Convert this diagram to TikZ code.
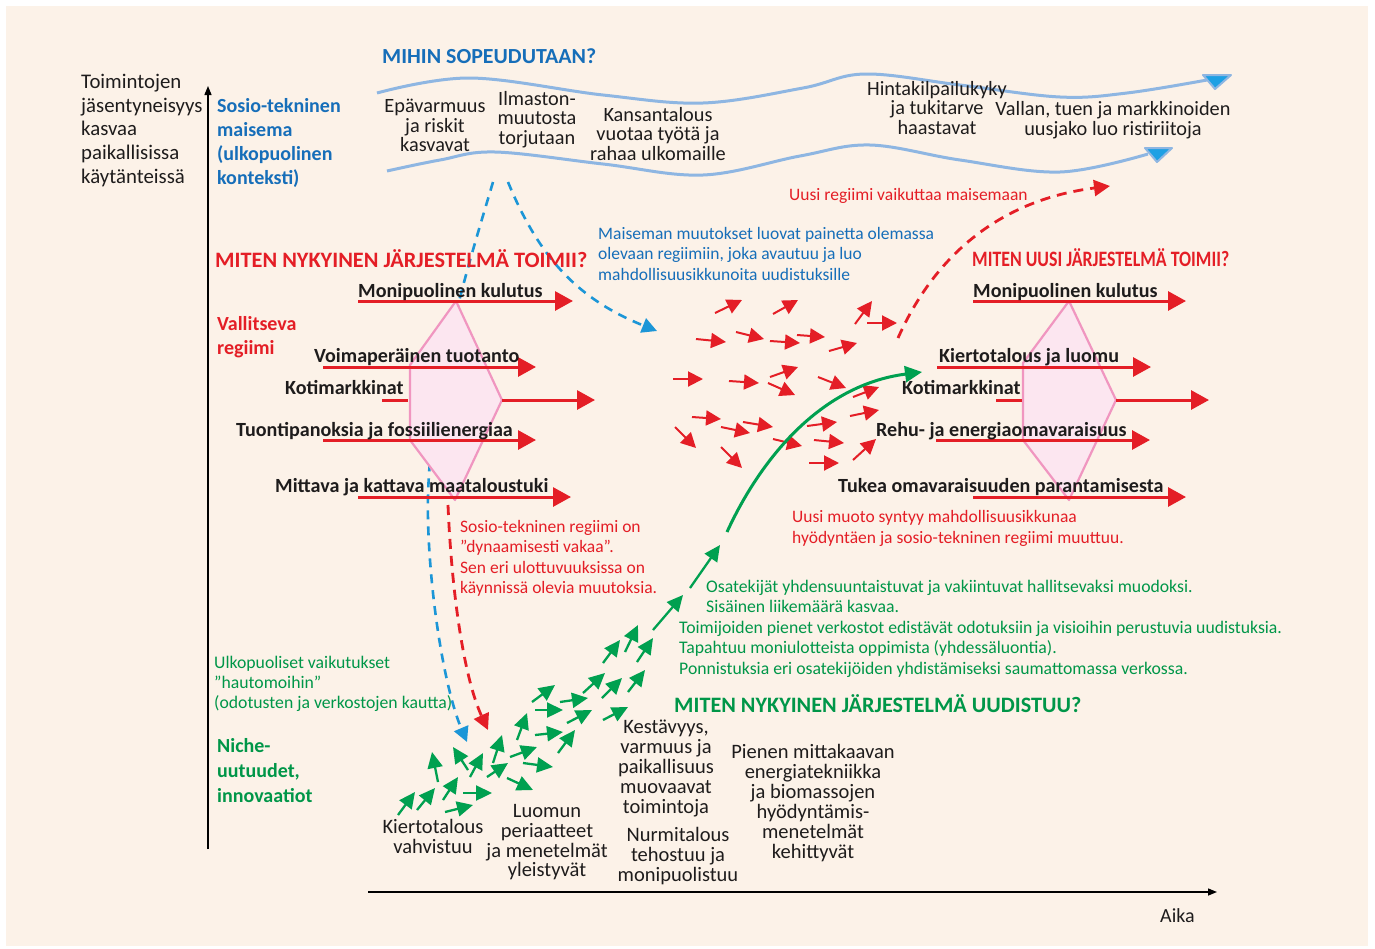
\documentclass[tikz,border=0pt]{standalone}
\usepackage{fontspec}
\usepackage{graphicx}
\setmainfont{Carlito}
\usetikzlibrary{arrows.meta}
\definecolor{bgc}{RGB}{252,242,232}
\definecolor{ink}{RGB}{30,28,28}
\definecolor{rred}{RGB}{228,30,38}
\definecolor{tblue}{RGB}{22,110,185}
\definecolor{dblue}{RGB}{28,150,215}
\definecolor{wblue}{RGB}{142,182,226}
\definecolor{hblue}{RGB}{30,160,228}
\definecolor{ggreen}{RGB}{0,160,80}
\definecolor{tgreen}{RGB}{0,150,72}
\definecolor{pinkl}{RGB}{240,150,192}
\definecolor{pinkf}{RGB}{252,230,240}
\newcommand\fs[1]{\fontsize{#1}{#1}\selectfont}
\begin{document}
\begin{tikzpicture}[x=1pt,y=-1pt,
  lw/.style={inner sep=0pt,anchor=base west},
  lc/.style={inner sep=0pt,anchor=base},
  body/.style={font=\fs{20}\color{ink}},
  land/.style={font=\fs{20.3}\color{ink}},
  btm/.style={font=\fs{20.5}\color{ink}},
  reglbl/.style={font=\fs{20.1}\bfseries\color{ink}},
  redpara/.style={font=\fs{17.5}\color{rred}},
  bluepara/.style={font=\fs{17.5}\color{tblue}},
  greenpara/.style={font=\fs{17.7}\color{tgreen}},
  regarrow/.style={draw=rred,line width=3pt,-{Triangle[length=18pt,width=19pt]}},
  regline/.style={draw=rred,line width=3pt},
  hexa/.style={draw=pinkl,fill=pinkf,line width=2.2pt,line join=round},
  swr/.style={draw=rred,fill=rred,line width=2pt,-{Triangle[length=15pt,width=15pt]}},
  swg/.style={draw=ggreen,fill=ggreen,line width=2.3pt,-{Triangle[length=16pt,width=15pt]}},
  bdash/.style={draw=dblue,line width=2.6pt,dash pattern=on 9pt off 7pt,-{Triangle[length=15pt,width=15pt]}},
  rdash/.style={draw=rred,line width=2.8pt,dash pattern=on 10pt off 7pt,-{Triangle[length=16pt,width=16pt]}},
  wave/.style={draw=wblue,line width=3pt},
  whead/.style={fill=hblue,draw=wblue,line width=2pt,line join=round},
  axis/.style={draw=black,line width=1.4pt,-{Triangle[length=9pt,width=7pt]}}
]
\useasboundingbox (0,0) rectangle (1375,948);
\fill[white] (0,0) rectangle (1375,948);
\fill[bgc] (6,6) rectangle (1368,946);

% axes
\coordinate (yb) at (208,849); \coordinate (yt) at (208,86);
\coordinate (xb) at (368,892); \coordinate (xt) at (1217,892);
\draw[axis] (yb) -- (yt);
\draw[axis] (xb) -- (xt);
\node[lw,body] (aika) at (1160,922) {Aika};

% left axis label
\foreach \t [count=\i] in {Toimintojen,jäsentyneisyys,kasvaa,paikallisissa,käytänteissä}
  \node[lw,font=\fs{20.8}\color{ink}] (yl\i) at (81,65+23.6*\i) {\t};
\foreach \t [count=\i] in {Sosio-tekninen,maisema,{(ulkopuolinen},{konteksti)}}
  \node[lw,font=\fs{20}\bfseries\color{tblue}] (sm\i) at (217,89+23.9*\i) {\t};

% waves
\draw[wave] plot[smooth,tension=0.6] coordinates {(377,93) (470,78) (603,95) (703,103) (803,88) (865,74) (960,85) (1060,97) (1127,93) (1207,80)};
\draw[wave] plot[smooth,tension=0.6] coordinates {(387,171) (440,160) (495,152) (603,164) (703,175) (800,156) (870,145) (960,160) (1060,172) (1148,154)};
\draw[whead] (1203,75) -- (1231,75) -- (1215,89) -- cycle;
\draw[whead] (1145,148) -- (1172,148) -- (1157,162) -- cycle;

\node[lw,font=\fs{21.5}\bfseries\color{tblue}] (mihin) at (382,63) {\resizebox{214pt}{\height}{MIHIN SOPEUDUTAAN?}};

\foreach \t [count=\i] in {Epävarmuus,ja riskit,kasvavat}
  \node[lc,land] (la\i) at (435,93+19.5*\i) {\t};
\foreach \t [count=\i] in {Ilmaston-,muutosta,torjutaan}
  \node[lc,land] (lb\i) at (537,85.5+19.5*\i) {\t};
\foreach \t [count=\i] in {Kansantalous,vuotaa työtä ja,rahaa ulkomaille}
  \node[lc,land] (lc\i) at (658,101.5+19.5*\i) {\t};
\foreach \t [count=\i] in {Hintakilpailukyky,ja tukitarve,haastavat}
  \node[lc,land] (ld\i) at (937,75.5+19.5*\i) {\t};
\foreach \t [count=\i] in {{Vallan, tuen ja markkinoiden},uusjako luo ristiriitoja}
  \node[lc,land] (le\i) at (1113,95+20*\i) {\t};

% blue dashed connectors (behind hexagon)
\coordinate (b1s) at (493,182); \coordinate (b1m) at (428,520); \coordinate (b1e) at (467,742);
\draw[bdash] (b1s) .. controls (470,260) and (425,400) .. (b1m) .. controls (430,600) and (445,690) .. (b1e);
\coordinate (b2s) at (508,182); \coordinate (b2e) at (657,331);
\draw[bdash] (b2s) .. controls (540,260) and (580,300) .. (b2e);

% headings
\node[lw,font=\fs{22}\bfseries\color{rred}] (h1) at (215,267) {\resizebox{372pt}{\height}{MITEN NYKYINEN JÄRJESTELMÄ TOIMII?}};
\node[lw,font=\fs{22}\bfseries\color{rred}] (h2) at (972,266) {\resizebox{257pt}{\height}{MITEN UUSI JÄRJESTELMÄ TOIMII?}};
\node[lw,font=\fs{22}\bfseries\color{tgreen}] (h3) at (674,712) {\resizebox{407pt}{\height}{MITEN NYKYINEN JÄRJESTELMÄ UUDISTUU?}};

\node[lw,font=\fs{20}\bfseries\color{rred}] (val1) at (217,330) {Vallitseva};
\node[lw,font=\fs{20}\bfseries\color{rred}] (val2) at (217,354) {regiimi};

% left regime
\draw[hexa] (456,301) coordinate (lh1) -- (410,365) -- (410,440) -- (455,500) coordinate (lh4) -- (502,400) coordinate (lh5) -- cycle;
\coordinate (la1) at (358,301); \coordinate (lt1) at (573,301);
\coordinate (la2) at (323,367); \coordinate (lt2) at (536,367);
\coordinate (la3) at (382,400); \coordinate (lz3) at (408,400); \coordinate (lt3) at (595,400);
\coordinate (la4) at (323,440); \coordinate (lt4) at (536,440);
\coordinate (la5) at (358,497); \coordinate (lt5) at (571,497);
\draw[regarrow] (la1) -- (lt1);
\draw[regarrow] (la2) -- (lt2);
\draw[regline] (la3) -- (lz3);
\draw[regarrow] (lh5) -- (lt3);
\draw[regarrow] (la4) -- (lt4);
\draw[regarrow] (la5) -- (lt5);
\node[lw,reglbl] (l1) at (358,297) {Monipuolinen kulutus};
\node[lw,reglbl] (l2) at (314,362) {Voimaperäinen tuotanto};
\node[lw,reglbl] (l3) at (285,394) {Kotimarkkinat};
\node[lw,reglbl] (l4) at (236,436) {Tuontipanoksia ja fossiilienergiaa};
\node[lw,reglbl] (l5) at (275,492) {Mittava ja kattava maataloustuki};

% right regime
\draw[hexa] (1069,301) -- (1023,363) -- (1023,440) -- (1069,500) -- (1116,400) coordinate (rh5) -- cycle;
\coordinate (ra1) at (973,301); \coordinate (rt1) at (1186,301);
\coordinate (ra2) at (937,367); \coordinate (rt2) at (1151,367);
\coordinate (ra3) at (996,400); \coordinate (rz3) at (1022,400); \coordinate (rt3) at (1209,400);
\coordinate (ra4) at (936,440); \coordinate (rt4) at (1150,440);
\coordinate (ra5) at (973,497); \coordinate (rt5) at (1186,497);
\draw[regarrow] (ra1) -- (rt1);
\draw[regarrow] (ra2) -- (rt2);
\draw[regline] (ra3) -- (rz3);
\draw[regarrow] (rh5) -- (rt3);
\draw[regarrow] (ra4) -- (rt4);
\draw[regarrow] (ra5) -- (rt5);
\node[lw,reglbl] (r1) at (973,297) {Monipuolinen kulutus};
\node[lw,reglbl] (r2) at (939,362) {Kiertotalous ja luomu};
\node[lw,reglbl] (r3) at (902,394) {Kotimarkkinat};
\node[lw,reglbl] (r4) at (876,436) {Rehu- ja energiaomavaraisuus};
\node[lw,reglbl] (r5) at (838,492) {Tukea omavaraisuuden parantamisesta};

% red dashed connectors
\coordinate (r1s) at (448,505); \coordinate (r1e) at (488,730);
\draw[rdash] (r1s) .. controls (452,600) and (465,680) .. (r1e);
\coordinate (r2s) at (898,338); \coordinate (r2e) at (1110,186);
\draw[rdash] (r2s) .. controls (935,255) and (1000,200) .. (r2e);

% paragraphs
\node[lw,redpara] (up) at (789,200) {Uusi regiimi vaikuttaa maisemaan};
\foreach \t [count=\i] in {Maiseman muutokset luovat painetta olemassa,{olevaan regiimiin, joka avautuu ja luo},mahdollisuusikkunoita uudistuksille}
  \node[lw,bluepara] (bp\i) at (598,218.5+20.5*\i) {\t};
\foreach \t [count=\i] in {Sosio-tekninen regiimi on,”dynaamisesti vakaa”.,Sen eri ulottuvuuksissa on,käynnissä olevia muutoksia.}
  \node[lw,redpara] (rp\i) at (460,511.5+20.5*\i) {\t};
\foreach \t [count=\i] in {Uusi muoto syntyy mahdollisuusikkunaa,hyödyntäen ja sosio-tekninen regiimi muuttuu.}
  \node[lw,redpara] (rq\i) at (792,501+21*\i) {\t};
\node[lw,greenpara] (gp1) at (706,592) {Osatekijät yhdensuuntaistuvat ja vakiintuvat hallitsevaksi muodoksi.};
\node[lw,greenpara] (gp2) at (706,612) {Sisäinen liikemäärä kasvaa.};
\node[lw,greenpara] (gp3) at (679,633) {Toimijoiden pienet verkostot edistävät odotuksiin ja visioihin perustuvia uudistuksia.};
\node[lw,greenpara] (gp4) at (679,653.5) {Tapahtuu moniulotteista oppimista (yhdessäluontia).};
\node[lw,greenpara] (gp5) at (679,674) {Ponnistuksia eri osatekijöiden yhdistämiseksi saumattomassa verkossa.};
\foreach \t [count=\i] in {Ulkopuoliset vaikutukset,”hautomoihin”,{(odotusten ja verkostojen kautta)}}
  \node[lw,font=\fs{17.7}\color{tgreen}] (gl\i) at (214,648+20*\i) {\t};
\foreach \t [count=\i] in {Niche-,{uutuudet,},innovaatiot}
  \node[lw,font=\fs{20}\bfseries\color{tgreen}] (ni\i) at (217,727+25*\i) {\t};

% red swarm
\foreach \a/\b/\c/\d in {715/313/742/300, 773/314/798/300, 696/339/726/342, 736/332/764/339, 770/341/800/343, 797/335/825/337, 829/351/857/343, 855/324/872/301, 867/323/897/323, 673/379/703/379, 729/381/759/383, 770/377/798/367, 768/383/795/395, 818/377/846/388, 853/397/879/387, 692/417/721/419, 721/427/750/433, 743/422/773/427, 807/426/837/422, 850/416/879/410, 675/427/696/448, 721/447/742/468, 773/439/802/446, 814/440/844/443, 853/460/876/439, 809/463/839/463}
  \draw[swr] (\a,\b) -- (\c,\d);

% green swarm
\foreach \a/\b/\c/\d in {398/815/415/792, 417/810/435/788, 438/782/432/752, 443/800/458/777, 445/812/473/805, 463/793/492/793, 468/770/453/747, 470/777/483/753, 487/777/508/763, 493/763/502/735, 507/778/533/790, 510/757/537/747, 517/740/527/713, 523/763/553/767, 532/702/555/685, 535/710/563/710, 535/735/563/732, 558/753/575/730, 560/702/588/698, 567/723/592/710, 583/693/605/673, 602/698/622/678, 603/720/628/707, 603/663/620/640, 625/652/638/625, 628/692/645/670, 637/662/653/638, 653/630/683/595, 690/588/720/545}
  \draw[swg] (\a,\b) -- (\c,\d);
\coordinate (gs) at (727,532); \coordinate (ge) at (922,372);
\draw[draw=ggreen,line width=3pt,-{Triangle[length=17pt,width=16pt]}] (gs) .. controls (760,460) and (820,385) .. (ge);

% bottom texts
\foreach \t [count=\i] in {Kiertotalous,vahvistuu}
  \node[lc,btm] (k\i) at (433,813+20*\i) {\t};
\foreach \t [count=\i] in {Luomun,periaatteet,ja menetelmät,yleistyvät}
  \node[lc,btm] (lu\i) at (547,798+19.7*\i) {\t};
\foreach \t [count=\i] in {{Kestävyys,},varmuus ja,paikallisuus,muovaavat,toimintoja}
  \node[lc,btm] (ke\i) at (666,713+20*\i) {\t};
\foreach \t [count=\i] in {Nurmitalous,tehostuu ja,monipuolistuu}
  \node[lc,btm] (nu\i) at (678,821+20*\i) {\t};
\foreach \t [count=\i] in {Pienen mittakaavan,energiatekniikka,ja biomassojen,hyödyntämis-,menetelmät,kehittyvät}
  \node[lc,btm] (pi\i) at (813,738+20*\i) {\t};
\end{tikzpicture}
\end{document}
